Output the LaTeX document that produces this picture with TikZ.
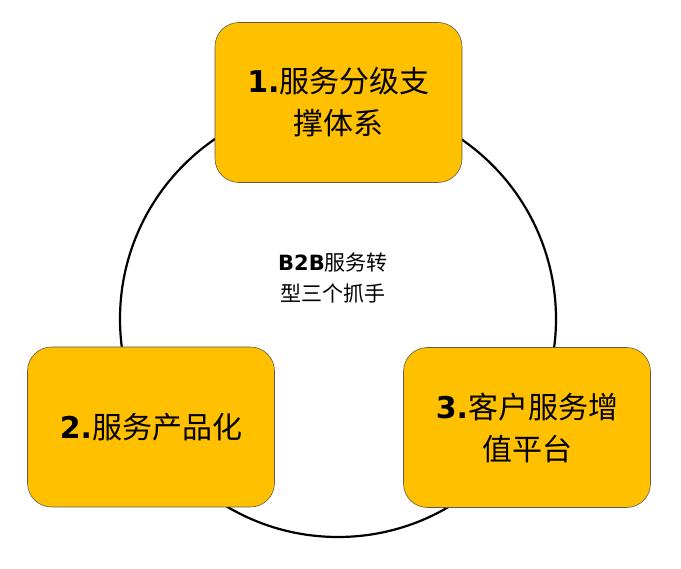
\documentclass[tikz,border=0pt]{standalone}
\usepackage{fontspec}
\setmainfont{DejaVu Sans}
\newfontfamily\cjk{Noto Sans CJK SC}
\begin{document}
\begin{tikzpicture}[x=1pt,y=-1pt,
  box/.style={draw=black!60!yellow!70!black,line width=0.6pt,fill={rgb,255:red,255;green,192;blue,0},rounded corners=24pt,minimum width=247pt,minimum height=160pt,align=center,font=\fontsize{30}{42}\selectfont}]
\useasboundingbox (0,0) rectangle (681,569);
\node (ring) [draw,line width=2.2pt,circle,minimum size=436pt,inner sep=0pt] at (338,319) {};
\node (c) at (333,278) [align=center,font=\fontsize{21}{32}\selectfont] {\textbf{B2B}{\cjk 服务转}\\{\cjk 型三个抓手}};
\node (b1) [box] at (338.5,102.5) {\textbf{1.}{\cjk 服务分级支}\\{\cjk 撑体系}};
\node (b2) [box] at (151,427) {\textbf{2.}{\cjk 服务产品化}};
\node (b3) [box] at (527,427.5) {\textbf{3.}{\cjk 客户服务增}\\{\cjk 值平台}};
\end{tikzpicture}
\end{document}
